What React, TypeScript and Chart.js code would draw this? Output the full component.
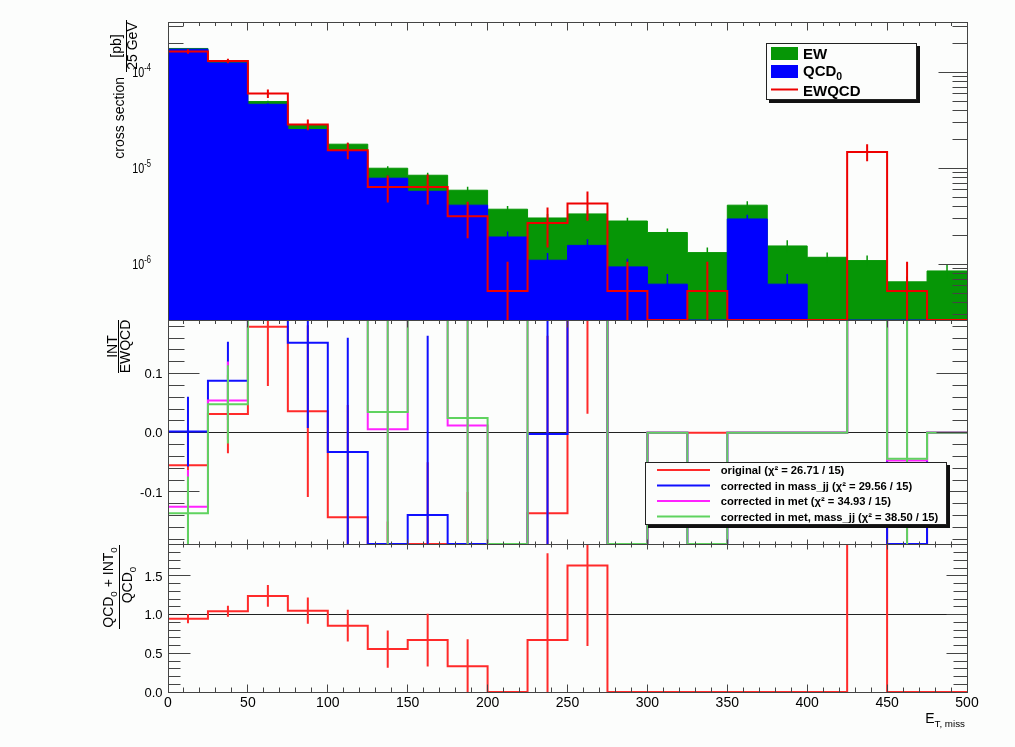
import React, { useEffect, useRef } from 'react';
import { Chart, registerables } from 'chart.js';

Chart.register(...registerables);

// ---- binning: missing transverse energy [GeV] ----
const binEdges = [0, 25, 50, 75, 100, 125, 150, 175, 200, 225, 250, 275, 300, 325, 350, 375, 400, 425, 450, 475, 500];

// ---- upper panel: cross section per 25 GeV bin [pb] ----
const qcd0Xsec = [1.74e-4, 1.25e-4, 4.64e-5, 2.53e-5, 1.51e-5, 7.87e-6, 5.75e-6, 4.12e-6, 1.92e-6, 1.1e-6, 1.57e-6, 9.37e-7, 6.19e-7, 0, 2.96e-6, 6.19e-7, 0, 0, 0, 0];
const qcd0Err = [1.5e-6, 1.5e-6, 1.0e-6, 8e-7, 6e-7, 5.5e-7, 4e-7, 3e-7, 2.7e-7, 2.1e-7, 2.5e-7, 2e-7, 1.7e-7, 0, 3.2e-7, 1.7e-7, 0, 0, 0, 0];
const ewXsec = [3.0e-6, 5.0e-6, 3.1e-6, 2.9e-6, 2.7e-6, 2.13e-6, 2.7e-6, 1.78e-6, 1.82e-6, 1.93e-6, 1.77e-6, 1.88e-6, 1.52e-6, 1.32e-6, 1.16e-6, 9.3e-7, 1.18e-6, 1.09e-6, 6.55e-7, 8.5e-7];
const stackErr = [1.5e-6, 1.5e-6, 1.0e-6, 8e-7, 6e-7, 5e-7, 5e-7, 5e-7, 3.1e-7, 3e-7, 3e-7, 2.3e-7, 2.1e-7, 1.7e-7, 4.1e-7, 2.3e-7, 1.4e-7, 1.4e-7, 9e-8, 1.4e-7];
const ewqcdXsec = [1.65e-4, 1.31e-4, 6.0e-5, 2.85e-5, 1.54e-5, 6.38e-6, 6.38e-6, 3.16e-6, 5.27e-7, 2.69e-6, 4.28e-6, 5.27e-7, 0, 5.27e-7, 0, 0, 0, 1.48e-5, 5.27e-7, 0];
const ewqcdErr = [9e-6, 7e-6, 6e-6, 3.7e-6, 3e-6, 2e-6, 2.2e-6, 1.3e-6, 5.3e-7, 1.2e-6, 1.45e-6, 5.3e-7, 0, 5.3e-7, 0, 0, 0, 3e-6, 5.3e-7, 0];

// ---- middle panel: INT / EWQCD for the four variants ----
const intOriginal = [-0.055, 0.0315, 0.179, 0.0365, -0.143, -0.35, -0.3, -0.4, -3.6, -0.136, 0.232, -1.78, 0, 0, 0, 0, 0, 0.4, -0.5, 0];
const intOriginalErr = [0.06, 0.066, 0.1, 0.145, 0.19, 0.2, 0.25, 0.3, 0.5, 0.3, 0.2, 0.4, 0, 0, 0, 0, 0, 0.1, 0.2, 0];
const intMassJJ = [0.002, 0.0877, 0.4, 0.152, -0.0326, -0.3, -0.139, -0.3, -0.5, -0.002, 0.3, -0.5, 0, -0.3, 0, 0, 0, 0.3, -0.3, 0];
const intMassJJErr = [0.059, 0.066, 0.1, 0.144, 0.193, 0.1, 0.303, 0.1, 0.3, 0.4, 0.1, 0.1, 0, 0.1, 0, 0, 0, 0.1, 0.1, 0];
const intMet = [-0.125, 0.0545, 0.4, 0.4, 0.4, 0.006, 0.4, 0.0123, -0.4, 0.4, 0.4, -0.4, 0, -0.4, 0, 0, 0, 0.4, -0.047, 0];
const intMetErr = [0.062, 0.066, 0.1, 0.1, 0.1, 0.25, 0.1, 0.25, 0.1, 0.1, 0.1, 0.1, 0, 0.1, 0, 0, 0, 0.1, 0.25, 0];
const intMetMassJJ = [-0.136, 0.048, 0.4, 0.4, 0.4, 0.035, 0.4, 0.0247, -0.4, 0.4, 0.4, -0.4, 0, -0.4, 0, 0, 0, 0.4, -0.044, 0];
const intMetMassJJErr = [0.062, 0.066, 0.1, 0.1, 0.1, 0.25, 0.1, 0.25, 0.1, 0.1, 0.1, 0.1, 0, 0.1, 0, 0, 0, 0.1, 0.25, 0];

// ---- lower panel: (QCD0 + INT0) / QCD0 ----
const qcdIntRatio = [0.947, 1.043, 1.241, 1.051, 0.856, 0.554, 0.671, 0.333, 0, 0.671, 1.634, 0, 0, 0, 0, 0, 0, 2.5, 0, 0];
const qcdIntRatioErr = [0.06, 0.07, 0.14, 0.17, 0.205, 0.24, 0.34, 0.35, 0, 1.12, 1.04, 0, 0, 0, 0, 0, 0, 0.5, 0, 0];

// ---- axis ticks and labels ----
const xTickValues = [0, 50, 100, 150, 200, 250, 300, 350, 400, 450, 500];
const xTickLabels = ['0', '50', '100', '150', '200', '250', '300', '350', '400', '450', '500'];
const xsecTickValues = [1e-4, 1e-5, 1e-6];
const xsecTickExponents = ['-4', '-5', '-6'];
const intTickValues = [-0.1, 0, 0.1];
const intTickLabels = ['-0.1', '0.0', '0.1'];
const qiTickValues = [0, 0.5, 1, 1.5];
const qiTickLabels = ['0.0', '0.5', '1.0', '1.5'];

// ---- legends ----
const ratioLegendLabels = [
  'original (\u03c7\u00b2 = 26.71 / 15)',
  'corrected in mass_jj (\u03c7\u00b2 = 29.56 / 15)',
  'corrected in met (\u03c7\u00b2 = 34.93 / 15)',
  'corrected in met, mass_jj (\u03c7\u00b2 = 38.50 / 15)',
];

// ---- layout / style ----
const W = 1015;
const H = 747;
const PLOT_L = 168;
const PLOT_R = 967;
const PANEL_TOP = { top: 22, bottom: 320 };
const PANEL_MID = { top: 320, bottom: 544 };
const PANEL_BOT = { top: 544, bottom: 692 };
const XSEC_MIN = 2.62e-7;
const XSEC_MAX = 3.34e-4;
const INT_MIN = -0.188;
const INT_MAX = 0.1905;
const QI_MIN = 0;
const QI_MAX = 1.912;

const BG = '#fcfdfc';
const FONT = '"Liberation Sans", Arial, Helvetica, sans-serif';
const TICK = '#444';
const C_GREEN_FILL = '#069606';
const C_BLUE_FILL = '#0000ff';
const C_RED = '#ee0000';
const C_R_RED = '#ff2a2a';
const C_R_BLUE = '#1010ff';
const C_R_MAG = '#ff22ff';
const C_R_GREEN = '#5fd35f';

type Seg = { t: string; sub?: boolean; sup?: boolean };

const clamp = (v: number, lo: number, hi: number) => Math.min(hi, Math.max(lo, v));
const crisp = (v: number) => Math.floor(v) + 0.5;

function histPoints(values: number[], lo: number, hi: number) {
  const pts = values.map((v, i) => ({ x: binEdges[i], y: clamp(v, lo, hi) }));
  pts.push({ x: binEdges[values.length], y: clamp(values[values.length - 1], lo, hi) });
  return pts;
}

function errorPoints(values: number[], errs: number[], lo: number, hi: number) {
  const pts: { x: number; y: number | null }[] = [];
  values.forEach((v, i) => {
    if (!(errs[i] > 0)) return;
    const c = (binEdges[i] + binEdges[i + 1]) / 2;
    pts.push({ x: c, y: clamp(v - errs[i], lo, hi) }, { x: c, y: clamp(v + errs[i], lo, hi) }, { x: c, y: null });
  });
  return pts;
}

// horizontal across the bin first, then vertical at the edge
function histDataset(points: any[], color: string, width: number, fillColor?: string) {
  return {
    type: 'line',
    data: points,
    stepped: 'before',
    borderColor: color,
    borderWidth: width,
    backgroundColor: fillColor ?? color,
    fill: fillColor ? 'start' : false,
    pointRadius: 0,
    pointHoverRadius: 0,
    borderCapStyle: 'butt',
    borderJoinStyle: 'miter',
  };
}

function errDataset(points: any[], color: string, width: number) {
  return {
    type: 'line',
    data: points,
    borderColor: color,
    borderWidth: width,
    fill: false,
    pointRadius: 0,
    pointHoverRadius: 0,
    spanGaps: false,
    borderCapStyle: 'butt',
  };
}

// first element is painted first (bottom-most)
function inDrawOrder(list: any[]) {
  return list.map((d, i) => ({ ...d, order: list.length - i }));
}

function segFont(size: number, bold: boolean, small: boolean) {
  return `${bold ? 'bold ' : ''}${small ? size * 0.7 : size}px ${FONT}`;
}

function richWidth(ctx: CanvasRenderingContext2D, segs: Seg[], size: number, bold: boolean) {
  let w = 0;
  for (const s of segs) {
    ctx.font = segFont(size, bold, !!(s.sub || s.sup));
    w += ctx.measureText(s.t).width;
  }
  return w;
}

function drawRich(
  ctx: CanvasRenderingContext2D,
  segs: Seg[],
  x: number,
  y: number,
  size: number,
  align: 'left' | 'center' | 'right' = 'left',
  bold = false,
  sx = 1
) {
  const w = richWidth(ctx, segs, size, bold);
  let cx = align === 'right' ? -w : align === 'center' ? -w / 2 : 0;
  ctx.save();
  ctx.translate(x, y);
  ctx.scale(sx, 1);
  ctx.fillStyle = '#000';
  ctx.textAlign = 'left';
  ctx.textBaseline = 'alphabetic';
  for (const s of segs) {
    const small = !!(s.sub || s.sup);
    ctx.font = segFont(size, bold, small);
    const dy = s.sub ? size * 0.3 : s.sup ? -size * 0.42 : 0;
    ctx.fillText(s.t, cx, dy);
    cx += ctx.measureText(s.t).width;
  }
  ctx.restore();
}

function seg(ctx: CanvasRenderingContext2D, x1: number, y1: number, x2: number, y2: number) {
  ctx.beginPath();
  ctx.moveTo(x1, y1);
  ctx.lineTo(x2, y2);
  ctx.stroke();
}

// x ticks: majors at the labelled values, four minors in between
function xTicks(ctx: CanvasRenderingContext2D, xs: any, y: number, dir: number, majorLen: number, minorLen: number) {
  xTickValues.forEach((v, i) => {
    const px = crisp(xs.getPixelForValue(v));
    seg(ctx, px, y, px, y + dir * majorLen);
    if (i < xTickValues.length - 1) {
      const step = (xTickValues[i + 1] - v) / 5;
      for (let k = 1; k < 5; k++) {
        const mx = crisp(xs.getPixelForValue(v + k * step));
        seg(ctx, mx, y, mx, y + dir * minorLen);
      }
    }
  });
}

function yTicks(ctx: CanvasRenderingContext2D, ys: any, majors: number[], minors: number[], x: number, dir: number, majorLen: number, minorLen: number) {
  const lo = Math.min(ys.min, ys.max);
  const hi = Math.max(ys.min, ys.max);
  for (const v of majors) {
    if (v < lo || v > hi) continue;
    const py = crisp(ys.getPixelForValue(v));
    seg(ctx, x, py, x + dir * majorLen, py);
  }
  for (const v of minors) {
    if (v < lo || v > hi) continue;
    const py = crisp(ys.getPixelForValue(v));
    seg(ctx, x, py, x + dir * minorLen, py);
  }
}

function frame(ctx: CanvasRenderingContext2D, a: any) {
  ctx.strokeStyle = TICK;
  ctx.lineWidth = 1;
  ctx.strokeRect(crisp(a.left), crisp(a.top), Math.round(a.right - a.left), Math.round(a.bottom - a.top));
}

function linearMinors(majors: number[], step: number, lo: number, hi: number) {
  const out: number[] = [];
  for (let v = Math.ceil(lo / step) * step; v <= hi + 1e-9; v += step) {
    const r = Math.round(v / step) * step;
    if (!majors.some((m) => Math.abs(m - r) < 1e-9)) out.push(r);
  }
  return out;
}

const logMinors = (() => {
  const out: number[] = [];
  for (const d of [1e-7, 1e-6, 1e-5, 1e-4]) for (let k = 2; k <= 9; k++) out.push(k * d);
  return out;
})();

function legendBox(ctx: CanvasRenderingContext2D, x0: number, y0: number, x1: number, y1: number) {
  ctx.fillStyle = '#111';
  ctx.fillRect(x0 + 3, y0 + 3, x1 - x0, y1 - y0);
  ctx.fillStyle = BG;
  ctx.fillRect(x0, y0, x1 - x0, y1 - y0);
  ctx.strokeStyle = '#222';
  ctx.lineWidth = 1;
  ctx.strokeRect(x0 + 0.5, y0 + 0.5, x1 - x0 - 1, y1 - y0 - 1);
}

// vertical (rotated) text: page point (X, Y) is (-Y, X) in rotated space
function withRotation(ctx: CanvasRenderingContext2D, fn: () => void) {
  ctx.save();
  ctx.rotate(-Math.PI / 2);
  fn();
  ctx.restore();
}

const topDecor = {
  id: 'topDecor',
  beforeDatasetsDraw(chart: any) {
    const { ctx, chartArea: a, scales } = chart;
    ctx.save();
    ctx.strokeStyle = TICK;
    ctx.lineWidth = 1;
    xTicks(ctx, scales.x, crisp(a.bottom), -1, 8, 4);
    yTicks(ctx, scales.y, xsecTickValues, logMinors, crisp(a.left), 1, 29, 15);
    ctx.restore();
  },
  afterDatasetsDraw(chart: any) {
    const { ctx, chartArea: a, scales } = chart;
    ctx.save();
    ctx.strokeStyle = TICK;
    ctx.lineWidth = 1;
    xTicks(ctx, scales.x, crisp(a.top), 1, 8, 3.5);
    yTicks(ctx, scales.y, xsecTickValues, logMinors, crisp(a.right), -1, 29, 15);
    frame(ctx, a);

    xsecTickValues.forEach((v, i) => {
      const py = scales.y.getPixelForValue(v);
      drawRich(ctx, [{ t: '10' }, { t: xsecTickExponents[i], sup: true }], 151, py + 5, 15, 'right', false, 0.72);
    });

    withRotation(ctx, () => {
      drawRich(ctx, [{ t: 'cross section' }], -77, 124, 14, 'right');
      ctx.strokeStyle = '#000';
      ctx.lineWidth = 1;
      seg(ctx, -72, 126.5, -20, 126.5);
      drawRich(ctx, [{ t: '[pb]' }], -46, 121, 14, 'center');
      drawRich(ctx, [{ t: '25 GeV' }], -46, 137, 14, 'center');
    });

    // legend
    legendBox(ctx, 766, 43, 917, 100);
    ctx.fillStyle = C_GREEN_FILL;
    ctx.fillRect(771, 47, 27, 13);
    ctx.fillStyle = C_BLUE_FILL;
    ctx.fillRect(771, 65, 27, 13);
    ctx.strokeStyle = C_RED;
    ctx.lineWidth = 2;
    seg(ctx, 771, 89.5, 798, 89.5);
    drawRich(ctx, [{ t: 'EW' }], 803, 59, 15, 'left', true);
    drawRich(ctx, [{ t: 'QCD' }, { t: '0', sub: true }], 803, 75.5, 15, 'left', true);
    drawRich(ctx, [{ t: 'EWQCD' }], 803, 96, 15, 'left', true);
    ctx.restore();
  },
};

const intMinors = linearMinors(intTickValues, 0.02, INT_MIN, INT_MAX);
const qiMinors = linearMinors(qiTickValues, 0.1, QI_MIN, QI_MAX);

const midDecor = {
  id: 'midDecor',
  beforeDatasetsDraw(chart: any) {
    const { ctx, chartArea: a, scales } = chart;
    ctx.save();
    ctx.strokeStyle = TICK;
    ctx.lineWidth = 1;
    yTicks(ctx, scales.y, intTickValues, intMinors, crisp(a.left), 1, 31, 16);
    ctx.strokeStyle = '#222';
    const y0 = crisp(scales.y.getPixelForValue(0));
    seg(ctx, a.left, y0, a.right, y0);
    ctx.restore();
  },
  afterDatasetsDraw(chart: any) {
    const { ctx, chartArea: a, scales } = chart;
    ctx.save();
    ctx.strokeStyle = TICK;
    ctx.lineWidth = 1;
    xTicks(ctx, scales.x, crisp(a.top), 1, 7, 3.5);
    xTicks(ctx, scales.x, crisp(a.bottom), -1, 5, 3);
    yTicks(ctx, scales.y, intTickValues, intMinors, crisp(a.right), -1, 31, 15);
    frame(ctx, a);

    intTickValues.forEach((v, i) => {
      const py = scales.y.getPixelForValue(v);
      drawRich(ctx, [{ t: intTickLabels[i] }], 162.5, py + 4.7, 13, 'right');
    });

    withRotation(ctx, () => {
      drawRich(ctx, [{ t: 'INT' }], -346.5, 116.5, 14, 'center');
      ctx.strokeStyle = '#000';
      ctx.lineWidth = 1;
      seg(ctx, -373, 118.5, -320, 118.5);
      drawRich(ctx, [{ t: 'EWQCD' }], -346.5, 129.5, 14, 'center');
    });

    // legend
    legendBox(ctx, 645, 462, 947, 525);
    const colors = [C_R_RED, C_R_BLUE, C_R_MAG, C_R_GREEN];
    const rows = [470, 485.5, 501, 516.5];
    ratioLegendLabels.forEach((label, i) => {
      ctx.strokeStyle = colors[i];
      ctx.lineWidth = 2;
      seg(ctx, 657, rows[i], 710, rows[i]);
      drawRich(ctx, [{ t: label }], 720.7, rows[i] + 4.1, 11.2, 'left', true);
    });
    ctx.restore();
  },
};

const botDecor = {
  id: 'botDecor',
  beforeDatasetsDraw(chart: any) {
    const { ctx, chartArea: a, scales } = chart;
    ctx.save();
    ctx.strokeStyle = TICK;
    ctx.lineWidth = 1;
    yTicks(ctx, scales.y, qiTickValues, qiMinors, crisp(a.left), 1, 22, 12);
    ctx.strokeStyle = '#222';
    const y1 = crisp(scales.y.getPixelForValue(1));
    seg(ctx, a.left, y1, a.right, y1);
    ctx.restore();
  },
  afterDatasetsDraw(chart: any) {
    const { ctx, chartArea: a, scales } = chart;
    ctx.save();
    ctx.strokeStyle = TICK;
    ctx.lineWidth = 1;
    xTicks(ctx, scales.x, crisp(a.top), 1, 5, 3);
    xTicks(ctx, scales.x, crisp(a.bottom), -1, 8, 5);
    yTicks(ctx, scales.y, qiTickValues, qiMinors, crisp(a.right), -1, 21, 14);
    frame(ctx, a);

    qiTickValues.forEach((v, i) => {
      const py = scales.y.getPixelForValue(v);
      drawRich(ctx, [{ t: qiTickLabels[i] }], 162.5, py + 4.7, 13, 'right');
    });
    xTickValues.forEach((v, i) => {
      const px = scales.x.getPixelForValue(v);
      drawRich(ctx, [{ t: xTickLabels[i] }], px, 706.7, 14, 'center');
    });
    drawRich(ctx, [{ t: 'E' }, { t: 'T, miss', sub: true }], 965, 723, 14, 'right');

    withRotation(ctx, () => {
      drawRich(ctx, [{ t: 'QCD' }, { t: '0', sub: true }, { t: ' + INT' }, { t: '0', sub: true }], -587.5, 112.5, 14, 'center');
      ctx.strokeStyle = '#000';
      ctx.lineWidth = 1;
      seg(ctx, -629, 119.5, -545, 119.5);
      drawRich(ctx, [{ t: 'QCD' }, { t: '0', sub: true }], -585, 131.5, 14, 'center');
    });
    ctx.restore();
  },
};

function baseOptions(area: { top: number; bottom: number }, yScale: any) {
  return {
    animation: false,
    responsive: false,
    maintainAspectRatio: false,
    devicePixelRatio: 1,
    events: [],
    layout: { padding: { left: PLOT_L, right: W - PLOT_R, top: area.top, bottom: H - area.bottom } },
    scales: {
      x: { type: 'linear', min: 0, max: 500, bounds: 'data', display: false },
      y: { ...yScale, bounds: 'data', display: false },
    },
    plugins: { legend: { display: false }, tooltip: { enabled: false } },
    elements: { point: { radius: 0 }, line: { tension: 0 } },
  };
}

function topConfig(): any {
  const totals = qcd0Xsec.map((q, i) => q + ewXsec[i]);
  const datasets = inDrawOrder([
    histDataset(histPoints(totals, XSEC_MIN, XSEC_MAX), C_GREEN_FILL, 1, C_GREEN_FILL),
    errDataset(errorPoints(totals, stackErr, XSEC_MIN, XSEC_MAX), C_GREEN_FILL, 1.5),
    histDataset(histPoints(qcd0Xsec, XSEC_MIN, XSEC_MAX), C_BLUE_FILL, 1, C_BLUE_FILL),
    errDataset(errorPoints(qcd0Xsec, qcd0Err, XSEC_MIN, XSEC_MAX), C_BLUE_FILL, 1.5),
    histDataset(histPoints(ewqcdXsec, XSEC_MIN, XSEC_MAX), C_RED, 2),
    errDataset(errorPoints(ewqcdXsec, ewqcdErr, XSEC_MIN, XSEC_MAX), C_RED, 2),
  ]);
  return {
    type: 'line',
    data: { datasets },
    options: baseOptions(PANEL_TOP, { type: 'logarithmic', min: XSEC_MIN, max: XSEC_MAX }),
    plugins: [topDecor],
  };
}

function midConfig(): any {
  const series: [number[], number[], string][] = [
    [intOriginal, intOriginalErr, C_R_RED],
    [intMassJJ, intMassJJErr, C_R_BLUE],
    [intMet, intMetErr, C_R_MAG],
    [intMetMassJJ, intMetMassJJErr, C_R_GREEN],
  ];
  const list: any[] = [];
  for (const [vals, errs, color] of series) {
    list.push(histDataset(histPoints(vals, INT_MIN, INT_MAX), color, 2));
    list.push(errDataset(errorPoints(vals, errs, INT_MIN, INT_MAX), color, 2));
  }
  return {
    type: 'line',
    data: { datasets: inDrawOrder(list) },
    options: baseOptions(PANEL_MID, { type: 'linear', min: INT_MIN, max: INT_MAX }),
    plugins: [midDecor],
  };
}

function botConfig(): any {
  const datasets = inDrawOrder([
    histDataset(histPoints(qcdIntRatio, QI_MIN, QI_MAX), C_R_RED, 2),
    errDataset(errorPoints(qcdIntRatio, qcdIntRatioErr, QI_MIN, QI_MAX), C_R_RED, 2),
  ]);
  return {
    type: 'line',
    data: { datasets },
    options: baseOptions(PANEL_BOT, { type: 'linear', min: QI_MIN, max: QI_MAX }),
    plugins: [botDecor],
  };
}

export default function App() {
  const topRef = useRef<HTMLCanvasElement>(null);
  const midRef = useRef<HTMLCanvasElement>(null);
  const botRef = useRef<HTMLCanvasElement>(null);

  useEffect(() => {
    const charts = [
      new Chart(topRef.current as HTMLCanvasElement, topConfig()),
      new Chart(midRef.current as HTMLCanvasElement, midConfig()),
      new Chart(botRef.current as HTMLCanvasElement, botConfig()),
    ];
    return () => charts.forEach((c) => c.destroy());
  }, []);

  const layer: React.CSSProperties = { position: 'absolute', left: 0, top: 0, width: W, height: H };
  return (
    <div style={{ position: 'absolute', left: 0, top: 0, width: W, height: H, background: BG, overflow: 'hidden' }}>
      <canvas ref={topRef} width={W} height={H} style={layer} />
      <canvas ref={midRef} width={W} height={H} style={layer} />
      <canvas ref={botRef} width={W} height={H} style={layer} />
    </div>
  );
}
